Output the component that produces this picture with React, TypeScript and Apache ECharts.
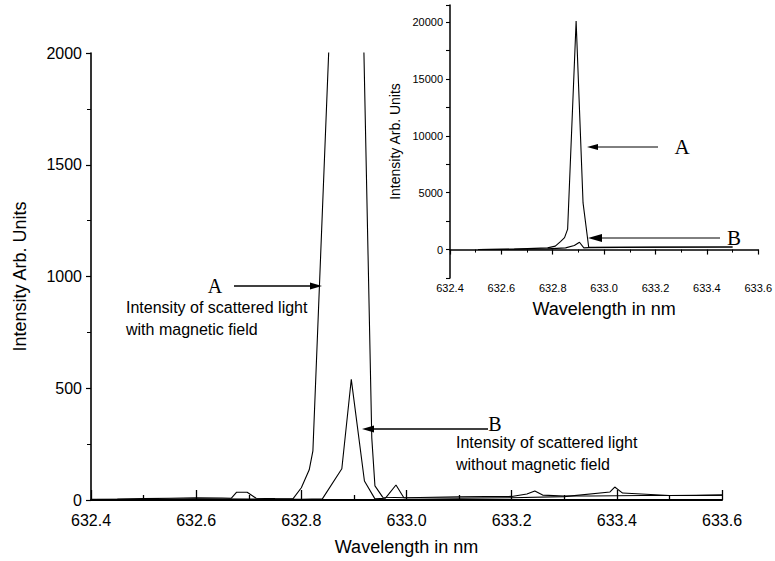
import React, { useEffect, useRef } from "react";
import * as echarts from "echarts";

// ---------- Main chart data (wavelength in nm, intensity arb. units) ----------
const MAIN_A_WL = [632.40, 632.45, 632.50, 632.55, 632.60, 632.65, 632.667, 632.677, 632.697, 632.714, 632.75, 632.784, 632.80, 632.815, 632.822, 632.855, 632.89, 632.918, 632.934, 632.94, 632.955, 633.00, 633.05, 633.10, 633.15, 633.20, 633.229, 633.244, 633.259, 633.30, 633.35, 633.45, 633.50, 633.55, 633.60];
const MAIN_A_VAL = [3, 4, 6, 8, 10, 9, 8, 35, 35, 8, 6, 5, 55, 135, 220, 2180, 20000, 2120, 277, 63, 12, 10, 12, 14, 15, 16, 27, 40, 22, 18, 18, 20, 20, 20, 22];

const MAIN_B_WL = [632.40, 632.50, 632.60, 632.70, 632.80, 632.84, 632.877, 632.895, 632.92, 632.94, 632.96, 632.98, 632.995, 633.10, 633.20, 633.30, 633.387, 633.396, 633.411, 633.50, 633.60];
const MAIN_B_VAL = [2, 3, 5, 4, 3, 5, 140, 540, 85, 5, 8, 67, 10, 8, 10, 15, 36, 58, 31, 20, 22];

// ---------- Inset data ----------
const INSET_A_WL = [632.51, 632.65, 632.78, 632.81, 632.83, 632.846, 632.858, 632.891, 632.918, 632.94, 633.2, 633.5];
const INSET_A_VAL = [0, 40, 150, 300, 700, 1050, 1800, 20100, 4100, 200, 210, 230];

const INSET_B_WL = [632.51, 632.78, 632.85, 632.884, 632.904, 632.921, 632.94, 633.2, 633.5];
const INSET_B_VAL = [0, 60, 150, 350, 640, 150, 170, 200, 220];

// ---------- Axis settings ----------
const X_MIN = 632.4;
const X_MAX = 633.6;
const X_STEP = 0.2;
const MAIN_Y_MIN = 0;
const MAIN_Y_MAX = 2000;
const MAIN_Y_STEP = 500;
const INSET_Y_MIN = -2500;
const INSET_Y_MAX = 21500;
const INSET_Y_STEP = 2500;

const SANS = '"Liberation Sans", Arial, sans-serif';
const SERIF = '"Liberation Serif", "Times New Roman", serif';

const zip = (xs: number[], ys: number[]) => xs.map((x, i) => [x, ys[i]]);

export default function App() {
  const ref = useRef<HTMLDivElement>(null);

  useEffect(() => {
    const chart = echarts.init(ref.current!, null, { renderer: "svg" });

    const lineSeries = (name: string, data: number[][], xi: number, yi: number) => ({
      name,
      type: "line",
      xAxisIndex: xi,
      yAxisIndex: yi,
      data,
      symbol: "none",
      clip: true,
      lineStyle: { color: "#000", width: 1.1 },
      emphasis: { disabled: true },
    });

    const txt = (text: string, x: number, y: number, size: number, family: string, align = "left") => ({
      type: "text",
      x,
      y,
      silent: true,
      style: {
        text,
        fill: "#000",
        font: `${size}px ${family}`,
        align,
        verticalAlign: "middle",
        textAlign: align,
        textVerticalAlign: "middle",
      },
    });
    const hline = (x1: number, x2: number, y: number, w = 1.4) => ({
      type: "line",
      silent: true,
      shape: { x1, y1: y, x2, y2: y },
      style: { stroke: "#000", lineWidth: w },
    });
    const head = (tipX: number, y: number, dir: number, len: number, half: number) => ({
      type: "polygon",
      silent: true,
      shape: { points: [[tipX, y], [tipX - dir * len, y - half], [tipX - dir * len, y + half]] },
      style: { fill: "#000" },
    });

    chart.setOption({
      animation: false,
      backgroundColor: "#fff",
      textStyle: { fontFamily: SANS, color: "#000" },
      grid: [
        { left: 91, right: 53, top: 53, bottom: 60 },
        { left: 450, right: 10, top: 5, bottom: 283 },
      ],
      xAxis: [
        {
          gridIndex: 0,
          type: "value",
          min: X_MIN,
          max: X_MAX,
          interval: X_STEP,
          name: "Wavelength in nm",
          nameLocation: "middle",
          nameGap: 38,
          nameTextStyle: { fontSize: 18, fontFamily: SANS, color: "#000" },
          axisLine: { lineStyle: { color: "#000", width: 2 } },
          axisTick: { inside: true, length: 10, lineStyle: { color: "#000", width: 1.3 } },
          minorTick: { show: true, splitNumber: 2, length: 5, lineStyle: { color: "#000", width: 1.3 } },
          axisLabel: { fontSize: 16, fontFamily: SANS, color: "#000", margin: 12, formatter: (v: number) => v.toFixed(1) },
          splitLine: { show: false },
        },
        {
          gridIndex: 1,
          type: "value",
          min: X_MIN,
          max: X_MAX,
          interval: X_STEP,
          name: "Wavelength in nm",
          nameLocation: "middle",
          nameGap: 22,
          nameTextStyle: { fontSize: 18, fontFamily: SANS, color: "#000" },
          axisLine: { lineStyle: { color: "#000", width: 1.5 } },
          axisTick: { inside: false, length: 5, lineStyle: { color: "#000", width: 1.2 } },
          minorTick: { show: true, splitNumber: 2, length: 3, lineStyle: { color: "#000", width: 1 } },
          axisLabel: { fontSize: 11, fontFamily: SANS, color: "#000", margin: 4, formatter: (v: number) => v.toFixed(1) },
          splitLine: { show: false },
        },
      ],
      yAxis: [
        {
          gridIndex: 0,
          type: "value",
          min: MAIN_Y_MIN,
          max: MAIN_Y_MAX,
          interval: MAIN_Y_STEP,
          name: "Intensity Arb. Units",
          nameLocation: "middle",
          nameGap: 62,
          nameTextStyle: { fontSize: 18, fontFamily: SANS, color: "#000" },
          axisLine: { show: true, lineStyle: { color: "#000", width: 1.6 } },
          axisTick: { show: true, inside: false, length: 5, lineStyle: { color: "#000", width: 1.2 } },
          minorTick: { show: true, splitNumber: 2, length: 4, lineStyle: { color: "#000", width: 1 } },
          axisLabel: { fontSize: 16, fontFamily: SANS, color: "#000", margin: 9, formatter: (v: number) => String(v) },
          splitLine: { show: false },
        },
        {
          gridIndex: 1,
          type: "value",
          min: INSET_Y_MIN,
          max: INSET_Y_MAX,
          interval: INSET_Y_STEP,
          name: "Intensity Arb. Units",
          nameLocation: "middle",
          nameGap: 48,
          nameTextStyle: { fontSize: 14, fontFamily: SANS, color: "#000" },
          axisLine: { show: true, lineStyle: { color: "#000", width: 1.5 } },
          axisTick: { show: true, inside: false, length: 4, lineStyle: { color: "#000", width: 1.1 } },
          axisLabel: {
            fontSize: 11,
            fontFamily: SANS,
            color: "#000",
            margin: 7,
            formatter: (v: number) => (v >= 0 && v % 5000 === 0 ? String(v) : ""),
          },
          splitLine: { show: false },
        },
      ],
      series: [
        lineSeries("A (main)", zip(MAIN_A_WL, MAIN_A_VAL), 0, 0),
        lineSeries("B (main)", zip(MAIN_B_WL, MAIN_B_VAL), 0, 0),
        lineSeries("A (inset)", zip(INSET_A_WL, INSET_A_VAL), 1, 1),
        lineSeries("B (inset)", zip(INSET_B_WL, INSET_B_VAL), 1, 1),
      ],
      graphic: [
        // main chart annotation A
        txt("A", 215, 286, 20, SERIF, "center"),
        hline(234, 312, 286),
        head(322, 286, 1, 12, 3.5),
        txt("Intensity of scattered light", 126, 307, 16, SANS),
        txt("with magnetic field", 126, 329, 16, SANS),
        // main chart annotation B
        txt("B", 495, 424, 20, SERIF, "center"),
        hline(372, 488, 429),
        head(362, 429, -1, 12, 3.5),
        txt("Intensity of scattered light", 456, 442, 16, SANS),
        txt("without magnetic field", 456, 464, 16, SANS),
        // inset annotations
        hline(597, 658, 147, 1),
        head(587, 147, -1, 11, 3),
        txt("A", 682, 147, 21, SERIF, "center"),
        hline(600, 720, 238, 1),
        head(588, 238, -1, 14, 4),
        txt("B", 734, 238, 21, SERIF, "center"),
      ],
    });

    return () => chart.dispose();
  }, []);

  return (
    <div
      ref={ref}
      style={{ position: "fixed", left: 0, top: 0, width: 775, height: 561, background: "#fff" }}
    />
  );
}
